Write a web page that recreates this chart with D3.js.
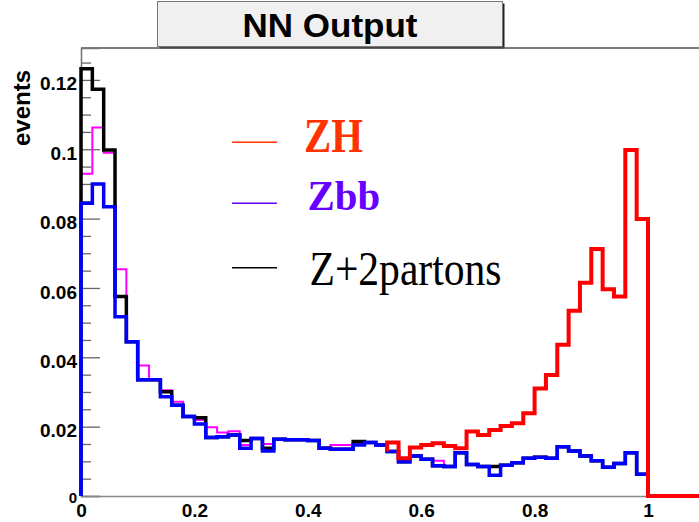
<!DOCTYPE html>
<html>
<head>
<meta charset="utf-8">
<script src="https://cdn.jsdelivr.net/npm/d3@7"></script>
<style>
  html, body { margin: 0; padding: 0; background: #fff; }
  svg { display: block; }
</style>
</head>
<body>
<svg id="chart" width="699" height="522"></svg>
<script>
// ---------------- data ----------------
const binWidth = 0.02;
// Zbb (blue), 50 bins over [0,1]
const zbb = [0.0844,0.0900,0.0834,0.0517,0.0445,0.0335,0.0335,0.0286,0.0262,0.0229,
             0.0208,0.0169,0.0171,0.0176,0.0138,0.0166,0.0130,0.0164,0.0162,0.0162,
             0.0160,0.0138,0.0135,0.0135,0.0147,0.0154,0.0147,0.0128,0.0099,0.0115,
             0.0106,0.0087,0.0085,0.0125,0.0091,0.0085,0.0060,0.0089,0.0096,0.0109,
             0.0112,0.0109,0.0142,0.0130,0.0115,0.0102,0.0083,0.0094,0.0125,0.0063];
// magenta histogram
const magenta = [0.0929,0.1063,0.0990,0.0654,0.0445,0.0376,0.0335,0.0305,0.0272,0.0229,
             0.0219,0.0198,0.0183,0.0187,0.0147,0.0166,0.0150,0.0164,0.0162,0.0162,
             0.0160,0.0140,0.0147,0.0147,0.0150,0.0154,0.0147,0.0128,0.0099,0.0115,
             0.0106,0.0102,0.0085,0.0125,0.0091,0.0085,0.0060,0.0089,0.0096,0.0109,
             0.0112,0.0109,0.0142,0.0130,0.0115,0.0102,0.0083,0.0094,0.0125,0.0063];
// Z+2partons (black)
const z2p = [0.1232,0.1173,0.0998,0.0575,0.0445,0.0335,0.0335,0.0301,0.0262,0.0229,
             0.0226,0.0169,0.0171,0.0176,0.0160,0.0166,0.0138,0.0164,0.0162,0.0162,
             0.0160,0.0138,0.0135,0.0135,0.0157,0.0154,0.0147,0.0128,0.0099,0.0115,
             0.0106,0.0087,0.0085,0.0125,0.0091,0.0085,0.0085,0.0089,0.0096,0.0109,
             0.0112,0.0109,0.0142,0.0130,0.0115,0.0102,0.0083,0.0094,0.0125,0.0063];
// ZH (red): visible from bin 27 (x = 0.54) to 1.1
const zhFirstBin = 27;
const zhStart = 0.0128;
const zh = [0.0154,0.0109,0.0140,0.0147,0.0152,0.0144,0.0138,0.0186,0.0176,0.0190,
            0.0202,0.0210,0.0239,0.0310,0.0349,0.0436,0.0534,0.0615,0.0712,0.0596,
            0.0575,0.0998,0.0799,0,0,0,0,0];

const xDomain = [0, 1.1];
const yDomain = [0, 0.1292];
const xTickValues = [0, 0.2, 0.4, 0.6, 0.8, 1];
const xTickLabels = ["0", "0.2", "0.4", "0.6", "0.8", "1"];
const yTickValues = [0, 0.02, 0.04, 0.06, 0.08, 0.1, 0.12];
const yTickLabels = ["0", "0.02", "0.04", "0.06", "0.08", "0.1", "0.12"];
const yMinorStep = 0.005;

const legendItems = [
  {label: "ZH", color: "#ff3300", lineColor: "#ff3300", weight: "bold"},
  {label: "Zbb", color: "#6600ff", lineColor: "#6600ff", weight: "bold"},
  {label: "Z+2partons", color: "#000000", lineColor: "#000000", weight: "normal"}
];

// ---------------- layout ----------------
const svg = d3.select("#chart");
const L = 81, B = 496, T = 48;
const pxPerUnit = 567;
const x = d3.scaleLinear().domain(xDomain).range([L, L + pxPerUnit * (xDomain[1] - xDomain[0])]);
const y = d3.scaleLinear().domain(yDomain).range([B, T]);

// title box
const tb = {x: 157.5, y: 1.5, w: 345, h: 45};
svg.append("rect").attr("x", tb.x + 2).attr("y", tb.y + 2).attr("width", tb.w).attr("height", tb.h)
  .attr("fill", "#222");
svg.append("rect").attr("x", tb.x).attr("y", tb.y).attr("width", tb.w).attr("height", tb.h)
  .attr("fill", "#f0f0f0").attr("stroke", "#777").attr("stroke-width", 1);
svg.append("text").attr("x", tb.x + tb.w / 2).attr("y", 36.5)
  .attr("text-anchor", "middle")
  .attr("font-family", "'Liberation Sans', Arial, sans-serif")
  .attr("font-weight", "bold").attr("font-size", 33)
  .attr("textLength", 175).attr("lengthAdjust", "spacingAndGlyphs")
  .text("NN Output");

// frame top
svg.append("line").attr("x1", L).attr("x2", 699).attr("y1", T).attr("y2", T)
  .attr("stroke", "#555").attr("stroke-width", 1.5);

// histogram path helper
const line = d3.line().x(d => x(d[0])).y(d => y(d[1]));
function histPoints(vals, firstBin, startVal, endVal) {
  const pts = [];
  const x0 = firstBin * binWidth;
  pts.push([x0, startVal]);
  vals.forEach((v, i) => {
    const a = (firstBin + i) * binWidth, b = (firstBin + i + 1) * binWidth;
    pts.push([a, v]); pts.push([b, v]);
  });
  const xe = (firstBin + vals.length) * binWidth;
  if (endVal !== null) pts.push([xe, endVal]);
  return pts;
}

const g = svg.append("g");
g.append("path").attr("d", line(histPoints(magenta, 0, 0, 0)))
  .attr("fill", "none").attr("stroke", "#ff00ff").attr("stroke-width", 2);
g.append("path").attr("d", line(histPoints(z2p, 0, 0, 0)))
  .attr("fill", "none").attr("stroke", "#000").attr("stroke-width", 3.5);
g.append("path").attr("d", line(histPoints(zbb, 0, 0, 0)))
  .attr("fill", "none").attr("stroke", "#0000ff").attr("stroke-width", 3.5);

// axes
const yAxisMinor = d3.axisLeft(y)
  .tickValues(d3.range(0, yDomain[1], yMinorStep).filter(v => Math.abs(v / 0.02 - Math.round(v / 0.02)) > 1e-6))
  .tickSize(-10).tickFormat("");
svg.append("g").attr("transform", `translate(${L},0)`).call(yAxisMinor)
  .call(s => s.select(".domain").remove())
  .selectAll("line").attr("stroke", "#666").attr("stroke-width", 1.3);

const yAxis = d3.axisLeft(y).tickValues(yTickValues).tickSize(-19).tickPadding(4)
  .tickFormat((d, i) => yTickLabels[i]);
const ya = svg.append("g").attr("transform", `translate(${L},0)`).call(yAxis);
ya.select(".domain").attr("stroke", "#777").attr("stroke-width", 1.6);
ya.selectAll(".tick line").attr("stroke", "#666").attr("stroke-width", 1.3);
ya.selectAll(".tick text")
  .attr("font-family", "'Liberation Sans', Arial, sans-serif")
  .attr("font-weight", "bold")
  .attr("font-size", (d, i) => i === 0 ? 15 : 19)
  .attr("fill", "#000")
  .attr("dy", (d, i) => i === 0 ? "0.4em" : "0.53em");

const xAxis = d3.axisBottom(x).tickValues(xTickValues).tickSize(0).tickPadding(8)
  .tickFormat((d, i) => xTickLabels[i]);
const xa = svg.append("g").attr("transform", `translate(0,${B})`).call(xAxis);
xa.select(".domain").attr("stroke", "#888").attr("stroke-width", 1.6);
xa.selectAll(".tick text")
  .attr("font-family", "'Liberation Sans', Arial, sans-serif")
  .attr("font-weight", "bold").attr("font-size", 19).attr("fill", "#000");

// red on top
g.raise();
const zhPts = histPoints(zh, zhFirstBin, zhStart, null);
svg.append("path").attr("d", line(zhPts))
  .attr("fill", "none").attr("stroke", "#ff0000").attr("stroke-width", 4);

// y title
svg.append("text")
  .attr("transform", "translate(30,70) rotate(-90)")
  .attr("text-anchor", "end")
  .attr("font-family", "'Liberation Sans', Arial, sans-serif")
  .attr("font-weight", "bold").attr("font-size", 24)
  .text("events");

// legend
const legY = [142.3, 203.3, 267.7];
const legBase = [151.7, 210, 285];
const legTextX = [304, 307.5, 309.5];
const legTextW = [59, 72.7, 192];
legendItems.forEach((d, i) => {
  svg.append("line").attr("x1", 232).attr("x2", 277).attr("y1", legY[i]).attr("y2", legY[i])
    .attr("stroke", d.lineColor).attr("stroke-width", 1.5);
  svg.append("text").attr("x", legTextX[i]).attr("y", legBase[i])
    .attr("font-family", "'Liberation Serif', 'Times New Roman', serif")
    .attr("font-weight", d.weight).attr("font-size", i === 1 ? 42 : 48)
    .attr("fill", d.color)
    .attr("textLength", legTextW[i]).attr("lengthAdjust", "spacingAndGlyphs")
    .text(d.label);
});
</script>
</body>
</html>
